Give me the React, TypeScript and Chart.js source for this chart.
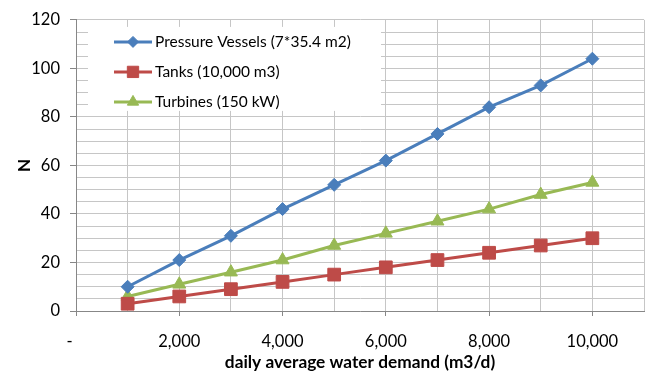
import React, { useEffect, useRef } from 'react';
import { Chart, registerables } from 'chart.js';
import { drawPoint } from 'chart.js/helpers';

Chart.register(...registerables);

// ---- data ----
const demand = [1000, 2000, 3000, 4000, 5000, 6000, 7000, 8000, 9000, 10000];
const pressureVessels = [10, 21, 31, 42, 52, 62, 73, 84, 93, 104];
const tanks = [3, 6, 9, 12, 15, 18, 21, 24, 27, 30];
const turbines = [6, 11, 16, 21, 27, 32, 37, 42, 48, 53];
const seriesNames = ['Pressure Vessels (7*35.4 m2)', 'Tanks (10,000 m3)', 'Turbines (150 kW)'];
const xTitle = 'daily average water demand (m3/d)';
const yTitle = 'N';

// ---- styles ----
const BLUE = '#4A7EBB';
const RED = '#BE4B48';
const GREEN = '#98B954';
const GRID = '#C6C6C6';
const AXIS = '#878787';
const FONT = 'Lato';

const toPts = (vals: number[]) => vals.map((v, i) => ({ x: demand[i], y: v }));

const legendPlugin = {
  id: 'insideLegend',
  beforeDatasetsDraw(chart: any) {
    const { ctx, chartArea } = chart;
    const left = chartArea.left;
    const top = chartArea.top;
    ctx.save();
    ctx.fillStyle = '#ffffff';
    ctx.fillRect(left + 12, top + 7, 293, 84);
    chart.data.datasets.forEach((ds: any, i: number) => {
      const y = top + 22 + i * 30;
      const x0 = left + 38;
      const x1 = left + 76;
      ctx.strokeStyle = ds.borderColor;
      ctx.lineWidth = 3;
      ctx.beginPath();
      ctx.moveTo(x0, y);
      ctx.lineTo(x1, y);
      ctx.stroke();
      ctx.fillStyle = ds.backgroundColor;
      ctx.strokeStyle = ds.borderColor;
      ctx.lineWidth = 1;
      drawPoint(ctx, { pointStyle: ds.pointStyle, radius: ds.legendRadius, borderWidth: 1, rotation: 0 }, (x0 + x1) / 2, y);
      ctx.fillStyle = '#000000';
      ctx.font = `15.5px ${FONT}`;
      ctx.textAlign = 'left';
      ctx.textBaseline = 'middle';
      ctx.fillText(ds.label, x1 + 3, y);
    });
    ctx.restore();
  },
};

export default function App() {
  const ref = useRef<HTMLCanvasElement | null>(null);

  useEffect(() => {
    if (!ref.current) return;
    const chart = new Chart(ref.current, {
      type: 'line',
      data: {
        datasets: [
          {
            label: seriesNames[0],
            data: toPts(pressureVessels),
            borderColor: BLUE,
            backgroundColor: BLUE,
            borderWidth: 3,
            pointStyle: 'rectRot',
            pointRadius: 6.5,
            pointBorderWidth: 1,
            legendRadius: 5.5,
          } as any,
          {
            label: seriesNames[1],
            data: toPts(tanks),
            borderColor: RED,
            backgroundColor: RED,
            borderWidth: 3,
            pointStyle: 'rect',
            pointRadius: 9,
            pointBorderWidth: 1,
            legendRadius: 8,
          } as any,
          {
            label: seriesNames[2],
            data: toPts(turbines),
            borderColor: GREEN,
            backgroundColor: GREEN,
            borderWidth: 3,
            pointStyle: 'triangle',
            pointRadius: 7.5,
            pointBorderWidth: 1,
            legendRadius: 6.5,
          } as any,
        ],
      },
      options: {
        animation: false,
        responsive: true,
        maintainAspectRatio: false,
        layout: { padding: { left: 0, right: 14, top: 17, bottom: 0 } },
        plugins: {
          legend: { display: false },
          tooltip: { enabled: false },
        },
        scales: {
          x: {
            type: 'linear',
            min: 0,
            max: 11000,
            afterFit: (s: any) => { s.height = 65; },
            ticks: {
              stepSize: 1000,
              autoSkip: false,
              maxRotation: 0,
              padding: 16,
              color: '#000',
              font: { family: FONT, size: 16.5 },
              callback: (v: any) => {
                const n = Number(v);
                if (n % 2000 !== 0) return '';
                if (n === 0) return '-   ';
                return n.toLocaleString('en-US');
              },
            },
            grid: {
              color: GRID,
              lineWidth: 1,
              tickLength: 5,
              tickColor: (c: any) => (c.tick && c.tick.value % 2000 === 0 ? AXIS : 'rgba(0,0,0,0)'),
            },
            border: { color: AXIS, width: 1 },
            title: {
              display: true,
              text: xTitle,
              color: '#000',
              font: { family: FONT, size: 17.3, weight: 'bold' },
              padding: { top: 0, bottom: 3 },
            },
          },
          y: {
            min: 0,
            max: 120,
            afterFit: (s: any) => { s.width = 76; },
            ticks: {
              stepSize: 5,
              autoSkip: false,
              padding: 10,
              color: '#000',
              font: { family: FONT, size: 16.5 },
              callback: (v: any) => (Number(v) % 20 === 0 ? String(v) : ''),
            },
            grid: {
              color: GRID,
              lineWidth: 1,
              tickLength: 6,
              tickColor: (c: any) => (c.tick && c.tick.value % 20 === 0 ? AXIS : 'rgba(0,0,0,0)'),
            },
            border: { color: AXIS, width: 1 },
            title: {
              display: true,
              text: yTitle,
              color: '#000',
              font: { family: FONT, size: 17, weight: 'bold' },
              padding: { top: 14, bottom: 0 },
            },
          },
        },
      },
      plugins: [legendPlugin],
    });
    return () => chart.destroy();
  }, []);

  return (
    <div style={{ position: 'absolute', left: 0, top: 0, width: 660, height: 376, background: '#fff' }}>
      <canvas ref={ref} />
    </div>
  );
}
